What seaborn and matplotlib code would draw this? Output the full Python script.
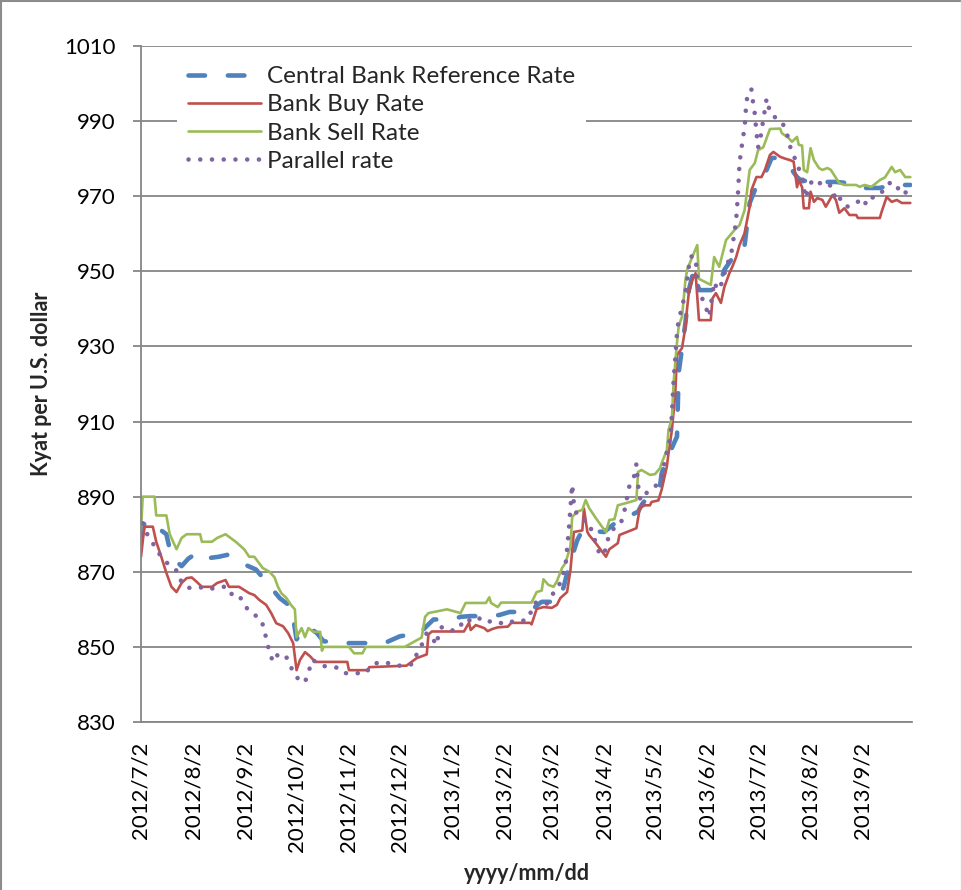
import numpy as np
import pandas as pd
import matplotlib
matplotlib.use("Agg")
import matplotlib.pyplot as plt
import seaborn as sns
from matplotlib.lines import Line2D

# ---------------- data (days since 2012/7/2, Kyat per US$) ----------------
START = "2012-07-02"

ref_day = [0, 2, 9, 12, 15, 18, 24, 28, 33, 36, 41, 46, 51, 58, 68, 74, 82, 89, 92, 96,
           99, 104, 108, 122, 144, 153, 158, 164, 170, 173, 184, 189, 195, 207, 212, 218,
           230, 234, 237, 247, 250, 253, 258, 261, 274, 281, 294, 296, 299, 302, 307, 308,
           312, 317, 318, 322, 324, 327, 330, 341, 345, 349, 354, 357, 360, 363, 365, 370,
           373, 375, 380, 385, 388, 391, 396, 403, 411, 418, 425, 437, 444, 455]
ref_val = [878.4, 883, 883, 881, 880, 874, 871.5, 873.5, 875, 873.7, 873.7, 874, 874.5,
           872.6, 870.6, 867.4, 863, 860.6, 852, 854.5, 855.3, 853.7, 851.5, 851, 851,
           852.8, 853.2, 853.3, 856, 857.3, 857.3, 858, 858.2, 858.2, 858.5, 859.3, 859.3,
           861, 862, 862, 866, 871.3, 878.4, 881, 880.6, 883.2, 886, 887.7, 889.6, 891,
           893, 896.3, 901, 906, 923, 936.3, 945, 950.4, 945, 945, 950.4, 953, 957, 957,
           968.2, 971.6, 973.5, 977, 980.2, 980.2, 979, 977, 975.1, 974, 974.3, 973.8,
           973.8, 973.5, 972.2, 972.2, 973, 973]

buy_day = [0, 2, 7, 9, 12, 15, 18, 21, 24, 27, 30, 33, 36, 42, 45, 50, 52, 58, 64, 67,
           70, 74, 77, 80, 84, 87, 90, 92, 94, 97, 100, 103, 107, 122, 123, 134, 135, 157,
           163, 169, 170, 172, 191, 194, 195, 198, 203, 205, 208, 211, 217, 219, 230, 231,
           234, 238, 243, 246, 248, 252, 254, 256, 261, 262, 264, 265, 269, 272, 275, 277,
           282, 283, 293, 295, 298, 301, 302, 306, 308, 311, 312, 314, 316, 317, 320, 322,
           323, 324, 326, 328, 330, 337, 338, 340, 343, 345, 348, 350, 352, 354, 357, 360,
           361, 364, 367, 369, 372, 374, 378, 381, 384, 386, 388, 389, 391, 392, 395, 396,
           398, 400, 403, 405, 409, 411, 413, 416, 419, 423, 424, 437, 438, 441, 444, 447,
           450, 455]
buy_val = [874, 882, 882, 878, 874, 869.7, 866, 864.6, 867, 868.3, 868.5, 867.3, 866, 866,
           867, 867.8, 866, 866, 864.3, 863.8, 862.5, 861.2, 859, 856.3, 855.5, 853.7, 851,
           843.8, 846.5, 848.6, 847.5, 846, 846, 846, 843.8, 843.8, 844.6, 845, 847, 848,
           853.3, 854.1, 854.1, 856.4, 854.5, 855.8, 855, 854.2, 854.8, 855.2, 855.4, 856.4,
           856.4, 856, 860.1, 860.6, 860.4, 861.2, 863, 864.6, 870.5, 880.6, 881, 886.8,
           880.6, 879.8, 877.6, 875.8, 874, 876, 877.6, 879.8, 881.6, 887, 887.7, 887.7,
           888.6, 889, 892, 898, 901.6, 907.7, 917.6, 927.7, 929.6, 935.2, 940.2, 944.2,
           947.7, 949.5, 937, 937, 942.8, 944.2, 941.6, 945.8, 949.5, 951.5, 953.8, 957,
           960.2, 967.2, 971.6, 975.1, 975.1, 977, 981, 981.8, 980.5, 980, 979.6, 979.2,
           972.4, 974.3, 972.4, 966.8, 966.8, 971.2, 968.5, 969.5, 969, 967.2, 970.3, 969,
           965.6, 966.8, 965, 965, 964.2, 964.2, 965.8, 969.8, 968.5, 969, 968.2, 968.2]

sell_day = [0, 1, 8, 9, 15, 17, 21, 24, 27, 35, 36, 42, 45, 50, 56, 61, 64, 67, 72, 76,
            79, 81, 83, 86, 89, 91, 92, 95, 97, 99, 102, 106, 107, 108, 123, 126, 131, 133,
            156, 160, 166, 168, 170, 181, 189, 192, 204, 206, 207, 211, 213, 231, 234, 237,
            238, 241, 244, 246, 249, 251, 254, 255, 258, 261, 263, 265, 269, 272, 275, 277,
            280, 282, 287, 293, 294, 296, 301, 304, 307, 308, 311, 312, 314, 315, 317, 318,
            320, 322, 323, 326, 329, 330, 337, 339, 342, 346, 351, 354, 357, 360, 363, 365,
            368, 372, 378, 379, 383, 385, 388, 389, 391, 392, 394, 396, 398, 401, 403, 406,
            408, 410, 413, 416, 423, 425, 428, 432, 437, 440, 444, 446, 449, 452, 455]
sell_val = [881, 890, 890, 885, 885, 880, 876, 879, 880, 880, 878, 878, 879, 880, 878, 876,
            874, 874, 871, 870, 868.5, 866, 864.3, 863, 861, 860, 852.6, 855, 852.6, 855,
            854, 854, 849, 850, 850, 848.3, 848.3, 850, 850, 851, 852.5, 858, 859, 860, 859,
            861.7, 861.7, 863.2, 861.7, 860.6, 861.8, 861.8, 864.6, 865, 868, 866.5, 866,
            867.5, 871, 872.3, 876.7, 884.6, 886, 886.5, 889.1, 887, 884.3, 882.4, 880.6,
            883.8, 884, 887.7, 888.3, 889.1, 896.6, 897.1, 895.8, 896, 897.6, 899, 902.4,
            907.7, 911, 920.3, 931, 935.3, 938, 947.7, 950.4, 953.8, 957, 948, 946.4, 953.8,
            951.2, 958.3, 961, 962.3, 966.3, 977, 978.8, 982.3, 983, 987.9, 988, 986.8,
            985.5, 984.5, 985.8, 983.7, 983.5, 977, 976.4, 982.8, 979.6, 977.5, 977, 977.5,
            977, 975.6, 973.5, 973, 973, 972.5, 973, 972.5, 974.3, 975, 977.8, 976.4, 977,
            975.1, 975.1]

par_day = [0, 1, 3, 6, 9, 12, 17, 22, 24, 28, 34, 40, 46, 51, 54, 58, 61, 65, 70, 73,
           74, 76, 78, 81, 85, 88, 90, 95, 97, 99, 101, 104, 107, 113, 117, 121, 128, 133,
           136, 141, 149, 153, 157, 161, 163, 166, 169, 172, 175, 176, 178, 183, 188, 191,
           195, 199, 203, 209, 215, 220, 225, 230, 231, 234, 237, 240, 243, 247, 251, 252,
           253, 254, 255, 256, 257, 261, 264, 267, 269, 271, 274, 275, 277, 281, 284, 286,
           289, 292, 293, 294, 296, 299, 304, 308, 310, 313, 314, 315, 316, 317, 318, 320,
           322, 323, 324, 325, 328, 329, 330, 333, 335, 336, 337, 338, 339, 341, 344, 346,
           349, 350, 351, 352, 353, 354, 355, 356, 357, 358, 359, 361, 362, 363, 364, 365,
           367, 368, 369, 370, 371, 373, 376, 379, 382, 383, 386, 388, 391, 392, 393, 395,
           397, 400, 403, 407, 409, 411, 414, 418, 423, 427, 429, 433, 437, 441, 444, 447,
           449, 452, 455]
par_val = [880, 883, 880.5, 878.4, 876, 874, 871.6, 870, 867.1, 865.7, 866, 865.3, 866,
           866, 863.8, 863.8, 861.2, 859, 857.8, 855, 852, 848.8, 846, 848, 848, 845.7, 843,
           840.5, 840.7, 843, 846.5, 846, 845, 844.5, 844.5, 843, 843, 843, 845, 846, 845.5,
           845, 845, 845.5, 848, 850.5, 853.7, 852.5, 850.5, 853.7, 855.3, 854.3, 854.7,
           857.4, 857, 858, 856.5, 857, 856, 856.8, 856.7, 858, 860.6, 862, 861.7, 861.5,
           863.8, 866, 871.3, 876, 881, 887, 893.2, 888.3, 886, 883.8, 883.5, 880.6, 877.6,
           875, 874.5, 877, 879.8, 882.4, 883.2, 886.4, 893.2, 895.8, 898.7, 893, 887.3,
           891, 892.6, 895.3, 900, 905.6, 912, 921, 927, 933.6, 937, 940.5, 944.5, 947.7,
           951.2, 954, 953.8, 947.7, 944.5, 941.8, 939.2, 937.9, 941, 944, 947.2, 945,
           947.2, 951.2, 954.3, 957.5, 960.2, 963.7, 970, 979, 982.3, 985.5, 988.2, 994.8,
           997.5, 998.5, 995, 992, 987, 983, 987, 990.5, 993, 996, 994, 991.5, 990.8, 989.8,
           987.1, 984.2, 981, 978.3, 975.6, 972.4, 969.5, 972.1, 974.3, 974.3, 972.7, 973,
           972.5, 968.5, 969.5, 967.2, 968.2, 969.5, 967.7, 969.8, 970.3, 973, 973.8, 973,
           970.6, 971, 971]

series_names = ["Central Bank Reference Rate", "Bank Buy Rate", "Bank Sell Rate", "Parallel rate"]

tick_dates = ["2012-07-02", "2012-08-02", "2012-09-02", "2012-10-02", "2012-11-02",
              "2012-12-02", "2013-01-02", "2013-02-02", "2013-03-02", "2013-04-02",
              "2013-05-02", "2013-06-02", "2013-07-02", "2013-08-02", "2013-09-02"]
tick_labels = ["2012/7/2", "2012/8/2", "2012/9/2", "2012/10/2", "2012/11/2", "2012/12/2",
               "2013/1/2", "2013/2/2", "2013/3/2", "2013/4/2", "2013/5/2", "2013/6/2",
               "2013/7/2", "2013/8/2", "2013/9/2"]
y_ticks = [830, 850, 870, 890, 910, 930, 950, 970, 990, 1010]

# ---------------- styling ----------------
sns.set_style("white")
plt.rcParams["font.family"] = ["Lato", "DejaVu Sans"]

W, H = 961, 890
fig = plt.figure(figsize=(W / 100, H / 100), dpi=100)
L, R, T, B = 141, 912, 46, 722
ax = fig.add_axes([L / W, 1 - B / H, (R - L) / W, (B - T) / H])

GRID = "#868686"
styles = {
    "Central Bank Reference Rate": dict(color="#4F81BD", linewidth=3.3, linestyle=(0, (3.6, 5.0))),
    "Bank Buy Rate": dict(color="#C0504D", linewidth=1.9, linestyle="-"),
    "Bank Sell Rate": dict(color="#9BBB59", linewidth=1.9, linestyle="-"),
    "Parallel rate": dict(color="#8064A2", linewidth=3.3, linestyle=(0, (0.01, 2.55))),
}
data = {
    "Central Bank Reference Rate": (ref_day, ref_val),
    "Bank Buy Rate": (buy_day, buy_val),
    "Bank Sell Rate": (sell_day, sell_val),
    "Parallel rate": (par_day, par_val),
}

start = pd.Timestamp(START)
for name in series_names:
    d, v = data[name]
    dates = start + pd.to_timedelta(np.array(d), unit="D")
    sns.lineplot(x=dates, y=np.array(v), ax=ax, estimator=None, sort=False,
                 dash_capstyle="round", solid_capstyle="round", solid_joinstyle="round",
                 legend=False, **styles[name])

ax.set_xlim(start, pd.Timestamp("2013-10-01"))
ax.set_ylim(830, 1010)
ax.set_yticks(y_ticks)
ax.set_yticklabels([str(t) for t in y_ticks])
ax.set_xticks(pd.to_datetime(tick_dates))
ax.set_xticklabels(tick_labels, rotation=90)

ax.grid(axis="y", color=GRID, linewidth=1.3)
ax.grid(axis="x", visible=False)
ax.set_axisbelow(True)
for s in ["top", "right"]:
    ax.spines[s].set_visible(False)
for s in ["left", "bottom"]:
    ax.spines[s].set_color(GRID)
    ax.spines[s].set_linewidth(1.3)
ax.tick_params(axis="y", which="major", direction="out", length=6, width=1.3,
               color=GRID, labelsize=16, pad=12, left=True)
ax.tick_params(axis="x", which="major", length=0, labelsize=16, pad=14, bottom=False)
for lab in ax.get_yticklabels() + ax.get_xticklabels():
    lab.set_color("black")

ax.set_ylabel("Kyat per U.S. dollar", fontsize=15.5, fontweight="bold")
ax.set_xlabel("yyyy/mm/dd", fontsize=15.5, fontweight="bold")
ax.yaxis.set_label_coords(-0.115, 0.5)
ax.xaxis.set_label_coords(0.50, -0.208)

handles = [Line2D([], [], dash_capstyle="round", solid_capstyle="round", **styles[n])
           for n in series_names]
leg = ax.legend(handles, series_names, loc="upper left", bbox_to_anchor=(0.047, 0.986),
                fontsize=17.5, frameon=True, facecolor="white", edgecolor="none",
                framealpha=1, fancybox=False, handlelength=3.0, handletextpad=0.25,
                labelspacing=0.29, borderpad=0.45, borderaxespad=0)

# figure border (top, left, faint right)
fig.add_artist(Line2D([0.0015, 0.0015], [0, 0.999], transform=fig.transFigure,
                      color="#8c8c8c", linewidth=1.5))
fig.add_artist(Line2D([0, 1], [0.9985, 0.9985], transform=fig.transFigure,
                      color="#8c8c8c", linewidth=1.5))
fig.add_artist(Line2D([0.9995, 0.9995], [0, 1], transform=fig.transFigure,
                      color="#dddddd", linewidth=1.0))

fig.savefig("out.png", dpi=100, facecolor="white")
